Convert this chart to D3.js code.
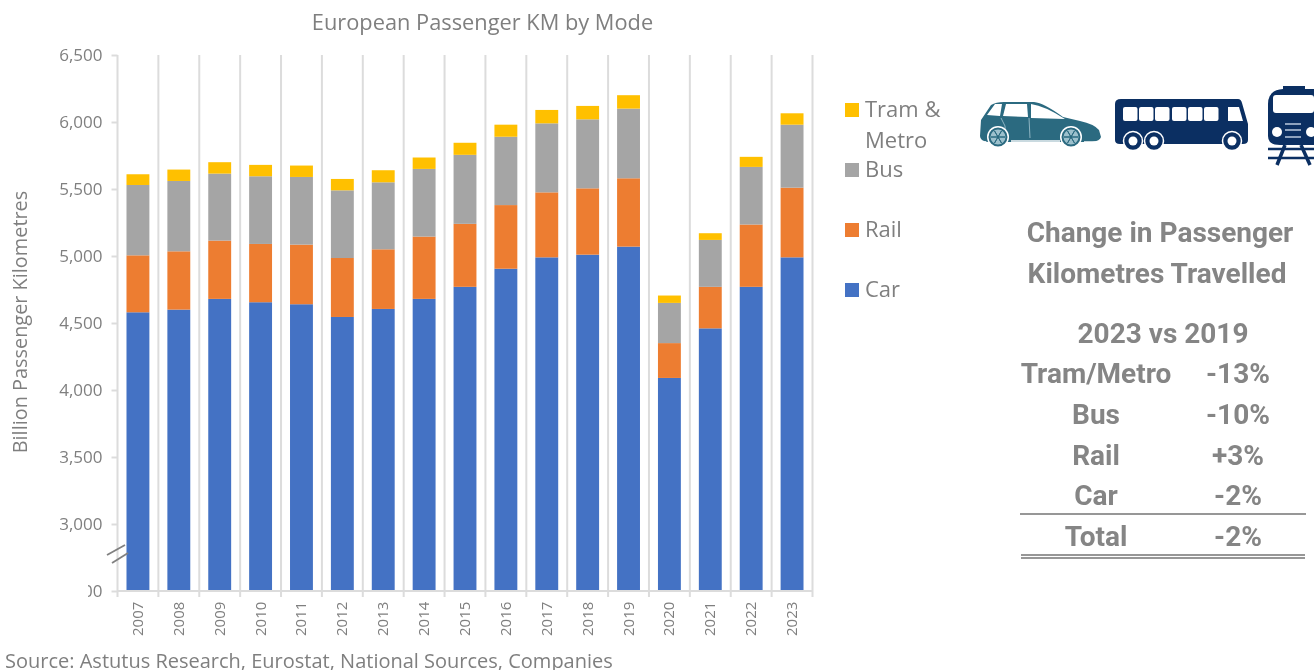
<!DOCTYPE html>
<html>
<head>
<meta charset="utf-8">
<script src="https://cdn.jsdelivr.net/npm/d3@7"></script>
<style>
html, body { margin: 0; padding: 0; background: #fff; overflow: hidden; }
svg { display: block; filter: blur(0.7px); }
text { font-family: "Open Sans", sans-serif; fill: #7f7f7f; }
.side text { font-family: Roboto, sans-serif; font-weight: 700; font-size: 28px; fill: #858585; }
</style>
</head>
<body>
<svg id="chart" width="1314" height="670"></svg>
<script>
var years = ["2007","2008","2009","2010","2011","2012","2013","2014","2015","2016","2017","2018","2019","2020","2021","2022","2023"];
var car  = [4580,4600,4680,4655,4640,4545,4605,4680,4770,4905,4990,5010,5070,4090,4460,4770,4990];
var rail = [425,435,435,435,445,440,445,465,470,475,485,495,510,260,310,465,520];
var bus  = [525,525,500,505,505,505,500,505,515,510,515,515,520,300,350,430,470];
var tram = [80,85,85,85,85,85,90,85,90,90,100,100,100,55,50,75,85];
var yTicks = [2500,3000,3500,4000,4500,5000,5500,6000,6500];

var modes = ["Car","Rail","Bus","Tram"];
var modeColors = {Car: "#4472c4", Rail: "#ed7d31", Bus: "#a5a5a5", Tram: "#ffc000"};

var changeRows = ["Tram/Metro","Bus","Rail","Car","Total"];
var changeVals = ["-13%","-10%","+3%","-2%","-2%"];

var svg = d3.select("#chart");

var x = d3.scaleBand().domain(years).range([117.5, 812.5]).paddingInner(0.44).paddingOuter(0.22);
var y = d3.scaleLinear().domain([2500, 6500]).range([591, 55]);

// the bottom tick label is cut off in the original, so clip it too (local coords of the tick)
svg.append("defs").append("clipPath").attr("id", "lblclip")
    .append("rect").attr("x", -29.5).attr("y", -20).attr("width", 40).attr("height", 40);

// vertical lines between the categories
var edges = d3.range(years.length + 1).map(function (i) { return 117.5 + i * (695 / years.length); });
svg.append("g").selectAll("line").data(edges).join("line")
    .attr("x1", function (d) { return d; }).attr("x2", function (d) { return d; })
    .attr("y1", 55).attr("y2", 597)
    .attr("stroke", "#dcdcdc").attr("stroke-width", 2);

// stacked bars
var rows = years.map(function (yr, i) {
    return {year: yr, Car: car[i], Rail: rail[i], Bus: bus[i], Tram: tram[i]};
});
var stack = d3.stack().keys(modes);
var plotBase = y.domain()[0];

svg.append("g").selectAll("g").data(stack(rows)).join("g")
    .attr("fill", function (s) { return modeColors[s.key]; })
    .selectAll("rect").data(function (s) { return s; }).join("rect")
    .attr("x", function (d) { return x(d.data.year); })
    .attr("width", x.bandwidth())
    .attr("y", function (d) { return y(d[1]); })
    .attr("height", function (d) { return y(Math.max(d[0], plotBase)) - y(d[1]); });

// y axis
var yAxis = svg.append("g").attr("transform", "translate(117.5,0)")
    .call(d3.axisLeft(y).tickValues(yTicks).tickSize(6).tickPadding(9).tickFormat(d3.format(",")));
yAxis.select(".domain").remove();
yAxis.selectAll("line").attr("stroke", "#dcdcdc").attr("stroke-width", 2);
yAxis.selectAll("text").style("font-size", "17px").style("font-family", "Open Sans").attr("fill", "#7f7f7f");
yAxis.selectAll(".tick").filter(function (d) { return d === 2500; })
    .select("text").attr("clip-path", "url(#lblclip)");

// x axis
svg.append("line").attr("x1", 117.5).attr("x2", 812.5).attr("y1", 591).attr("y2", 591)
    .attr("stroke", "#dcdcdc").attr("stroke-width", 2);
svg.append("g").selectAll("text").data(years).join("text")
    .attr("transform", function (d) { return "translate(" + (x(d) + x.bandwidth() / 2 + 5) + ",636) rotate(-90)"; })
    .style("font-size", "15px")
    .text(function (d) { return d; });

// axis break
[[107, 555, 125, 545], [112, 563, 128, 553]].forEach(function (b) {
    svg.append("line").attr("x1", b[0]).attr("y1", b[1]).attr("x2", b[2]).attr("y2", b[3])
        .attr("stroke", "#808080").attr("stroke-width", 1.8);
});

// title and labels
svg.append("text").attr("x", 482.5).attr("y", 30).attr("text-anchor", "middle")
    .style("font-size", "21.8px").text("European Passenger KM by Mode");
svg.append("text").attr("transform", "translate(27,322) rotate(-90)").attr("text-anchor", "middle")
    .style("font-size", "19.9px").text("Billion Passenger Kilometres");
svg.append("text").attr("x", 5).attr("y", 668)
    .style("font-size", "20px").text("Source: Astutus Research, Eurostat, National Sources, Companies");

// legend
var legend = [
    {key: "Tram", lines: ["Tram &", "Metro"], y: 110},
    {key: "Bus", lines: ["Bus"], y: 170},
    {key: "Rail", lines: ["Rail"], y: 230},
    {key: "Car", lines: ["Car"], y: 290}
];
legend.forEach(function (l) {
    svg.append("rect").attr("x", 845).attr("y", l.y - 7).attr("width", 14).attr("height", 14)
        .attr("fill", modeColors[l.key]);
    l.lines.forEach(function (s, i) {
        svg.append("text").attr("x", 865).attr("y", l.y + 7 + i * 31).style("font-size", "22px").text(s);
    });
});

// icons
var car_ic = svg.append("g").attr("fill", "#2b6a80");
car_ic.append("path").attr("d", "M980 136 L981 120 L991 105 Q996 102 1004 102 L1034 102 Q1044 103 1063 117 L1080 121 Q1094 124 1099 130 L1101 137 Q1100 141 1092 142 L988 142 Q980 141 980 136 Z");
car_ic.append("path").attr("fill", "#fff").attr("d", "M987 115 L995 104 L1002 104 L1000 116 Z M1003 116 L1006 104 L1027 104 L1028 117 Z M1031 104 Q1045 106 1065 119 L1031 118 Z");
car_ic.append("path").attr("fill", "none").attr("stroke", "#8eb4c2").attr("stroke-width", 1)
    .attr("d", "M1029 118 L1030 138 M1001 118 L1005 126 L1006 140");
car_ic.append("path").attr("fill", "none").attr("stroke", "#fff").attr("stroke-width", 1.5)
    .attr("d", "M1011 141 L1060 141 M982 142 L986 142 M1084 142 L1098 142");
[[998, 137], [1071, 137]].forEach(function (w) {
    car_ic.append("circle").attr("cx", w[0]).attr("cy", w[1]).attr("r", 11).attr("fill", "#fff");
    car_ic.append("circle").attr("cx", w[0]).attr("cy", w[1]).attr("r", 8.5).attr("fill", "#9cc0cc").attr("stroke", "#2b6a80").attr("stroke-width", 2);
    d3.range(6).forEach(function (k) {
        var a = k * Math.PI / 3;
        car_ic.append("line").attr("x1", w[0] - 7 * Math.cos(a)).attr("y1", w[1] - 7 * Math.sin(a))
            .attr("x2", w[0] + 7 * Math.cos(a)).attr("y2", w[1] + 7 * Math.sin(a))
            .attr("stroke", "#2b6a80").attr("stroke-width", 1);
    });
});

var bus_ic = svg.append("g").attr("fill", "#0b2f62");
bus_ic.append("path").attr("d", "M1115 104 Q1115 99 1121 99 L1238 99 Q1241 99 1242 103 L1248 124 L1248 140 Q1248 144 1243 144 L1120 144 Q1115 144 1115 140 Z");
[1123, 1139, 1155, 1172, 1188, 1204].forEach(function (wx) {
    bus_ic.append("rect").attr("x", wx).attr("y", 107).attr("width", 14.5).attr("height", 14).attr("rx", 2).attr("fill", "#fff");
});
bus_ic.append("path").attr("fill", "#fff").attr("d", "M1228 107 L1239 107 L1243 121 L1228 121 Z");
[1133, 1154, 1232].forEach(function (cx) {
    bus_ic.append("circle").attr("cx", cx).attr("cy", 141).attr("r", 9.5).attr("fill", "#0b2f62").attr("stroke", "#fff").attr("stroke-width", 1.5);
    bus_ic.append("circle").attr("cx", cx).attr("cy", 141).attr("r", 4.5).attr("fill", "#fff");
});

var train_ic = svg.append("g").attr("fill", "#0b2f62");
train_ic.append("path").attr("d", "M1268 104 Q1268 90 1283 89 L1283 86 L1305 86 L1305 89 L1314 89 L1314 145 L1280 145 Q1268 145 1268 136 Z");
train_ic.append("rect").attr("x", 1273).attr("y", 95).attr("width", 41).attr("height", 18).attr("rx", 3).attr("fill", "#fff");
[1277, 1311].forEach(function (cx) {
    train_ic.append("circle").attr("cx", cx).attr("cy", 132).attr("r", 5).attr("fill", "#fff");
});
[123, 129, 136].forEach(function (ly) {
    train_ic.append("rect").attr("x", 1285).attr("y", ly).attr("width", 16).attr("height", 2).attr("fill", "#8fa3bf");
});
[[1285, 145, 1277, 165], [1301, 145, 1310, 165]].forEach(function (r) {
    svg.append("line").attr("x1", r[0]).attr("y1", r[1]).attr("x2", r[2]).attr("y2", r[3]).attr("stroke", "#0b2f62").attr("stroke-width", 3.5);
});
[149, 158].forEach(function (ly) {
    svg.append("line").attr("x1", 1268).attr("x2", 1314).attr("y1", ly).attr("y2", ly).attr("stroke", "#0b2f62").attr("stroke-width", 2.5);
});

// change table
var side = svg.append("g").attr("class", "side");
side.append("text").attr("x", 1160).attr("y", 242).attr("text-anchor", "middle").text("Change in Passenger");
side.append("text").attr("x", 1157).attr("y", 283).attr("text-anchor", "middle").text("Kilometres Travelled");
side.append("text").attr("x", 1163).attr("y", 343).attr("text-anchor", "middle").text("2023 vs 2019");

var rowY = d3.scalePoint().domain(changeRows).range([383, 546]);
changeRows.forEach(function (r, i) {
    side.append("text").attr("x", 1096).attr("y", rowY(r)).attr("text-anchor", "middle").text(r);
    side.append("text").attr("x", 1238).attr("y", rowY(r)).attr("text-anchor", "middle").text(changeVals[i]);
});
[[514, 1020, 1306], [555, 1021, 1305], [558, 1021, 1305]].forEach(function (l) {
    svg.append("line").attr("x1", l[1]).attr("x2", l[2]).attr("y1", l[0]).attr("y2", l[0])
        .attr("stroke", "#757575").attr("stroke-width", 1.6);
});
</script>
</body>
</html>
